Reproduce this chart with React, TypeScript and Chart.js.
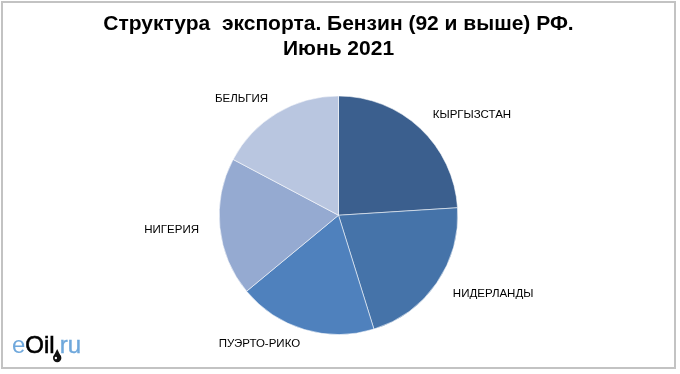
import React, { useEffect, useRef } from "react";
import { Chart, registerables } from "chart.js";

Chart.register(...registerables);

const titleLines = ["Структура  экспорта. Бензин (92 и выше) РФ.", "Июнь 2021"];
const countries = ["КЫРГЫЗСТАН", "НИДЕРЛАНДЫ", "ПУЭРТО-РИКО", "НИГЕРИЯ", "БЕЛЬГИЯ"];
const shares = [24.0, 21.2, 18.8, 18.75, 17.25];
const sliceColors = ["#3B5F8E", "#4573A9", "#4F81BD", "#95AAD1", "#B9C6E0"];

const FONT = "'Liberation Sans', Arial, sans-serif";

const framePlugin = {
  id: "frame",
  beforeDraw(chart: any) {
    const ctx = chart.ctx;
    ctx.save();
    ctx.fillStyle = "#ffffff";
    ctx.fillRect(0, 0, chart.width, chart.height);
    ctx.strokeStyle = "#c3c3c3";
    ctx.lineWidth = 2;
    ctx.strokeRect(2, 2, 673, 366);
    ctx.restore();
  },
  afterDraw(chart: any) {
    const ctx = chart.ctx;
    ctx.save();
    ctx.font = `24px ${FONT}`;
    ctx.textBaseline = "alphabetic";
    ctx.textAlign = "left";
    let x = 12;
    const y = 353;
    ctx.fillStyle = "#6FA8DC";
    ctx.fillText("e", x, y);
    x += ctx.measureText("e").width;
    ctx.fillStyle = "#000000";
    ctx.fillText("Oil", x, y);
    ctx.lineWidth = 0.6;
    ctx.strokeStyle = "#000000";
    ctx.strokeText("Oil", x, y);
    x += ctx.measureText("Oil").width;
    // oil drop as the dot
    const dx = x + 2.5;
    ctx.fillStyle = "#111111";
    ctx.beginPath();
    ctx.arc(dx, 358, 4.2, 0, Math.PI * 2);
    ctx.fill();
    ctx.beginPath();
    ctx.moveTo(dx - 3.7, 356.5);
    ctx.lineTo(dx, 349);
    ctx.lineTo(dx + 3.7, 356.5);
    ctx.fill();
    ctx.fillStyle = "#ffffff";
    ctx.beginPath();
    ctx.arc(dx - 1.3, 358, 1.2, 0, Math.PI * 2);
    ctx.fill();
    x += 5;
    ctx.fillStyle = "#6FA8DC";
    ctx.fillText("ru", x, y);
    ctx.lineWidth = 0.4;
    ctx.strokeStyle = "#6FA8DC";
    ctx.strokeText("ru", x, y);
    ctx.restore();
  },
};

const labelPlugin = {
  id: "outsideLabels",
  afterDatasetsDraw(chart: any) {
    const ctx = chart.ctx;
    const meta = chart.getDatasetMeta(0);
    ctx.save();
    ctx.font = `11.5px ${FONT}`;
    ctx.fillStyle = "#000000";
    ctx.textBaseline = "middle";
    meta.data.forEach((arc: any, i: number) => {
      const p = arc.getProps(["x", "y", "startAngle", "endAngle", "outerRadius"], true);
      const mid = (p.startAngle + p.endAngle) / 2;
      const c = Math.cos(mid);
      const s = Math.sin(mid);
      const r = p.outerRadius + 13 + 8 * Math.abs(c);
      const ax = p.x + r * c;
      const ay = p.y + r * s;
      ctx.textAlign = c >= 0 ? "left" : "right";
      ctx.fillText(String(chart.data.labels[i]), ax, ay);
    });
    ctx.restore();
  },
};

export default function App() {
  const ref = useRef<HTMLCanvasElement | null>(null);
  useEffect(() => {
    document.body.style.margin = "0";
    const canvas = ref.current!;
    const chart = new Chart(canvas, {
      type: "pie",
      data: {
        labels: countries,
        datasets: [
          {
            data: shares,
            backgroundColor: sliceColors,
            borderColor: "rgba(255,255,255,0.55)",
            borderWidth: 1,
          },
        ],
      },
      options: {
        animation: false,
        responsive: false,
        devicePixelRatio: 1,
        layout: { padding: { left: 0, right: 3, top: 0, bottom: 39 } },
        plugins: {
          legend: { display: false },
          tooltip: { enabled: false },
          title: {
            display: true,
            text: titleLines,
            color: "#000000",
            font: { family: FONT, size: 21, weight: "bold", lineHeight: 1.19 },
            padding: { top: 12, bottom: 33.5 },
          },
        },
      },
      plugins: [framePlugin, labelPlugin],
    });
    return () => chart.destroy();
  }, []);
  return (
    <div style={{ width: 680, height: 374 }}>
      <canvas ref={ref} width={680} height={374} style={{ display: "block", width: 680, height: 374 }} />
    </div>
  );
}
